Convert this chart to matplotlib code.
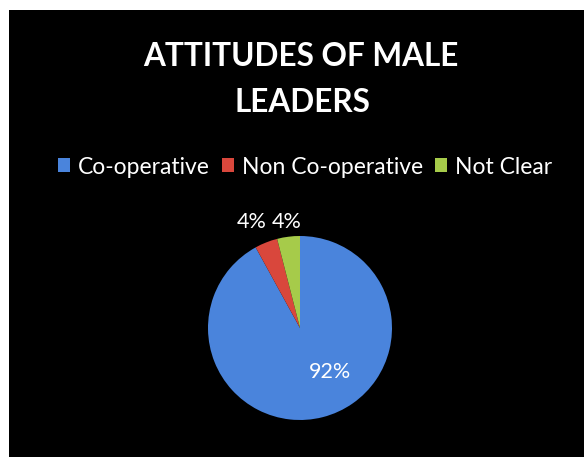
import matplotlib.pyplot as plt
from matplotlib.patches import Patch

labels = ["Co-operative", "Non Co-operative", "Not Clear"]
shares = [92, 4, 4]
colors = ["#4a84dc", "#d9473c", "#a6cb4a"]

fig = plt.figure(figsize=(5.84, 4.57), dpi=100)
fig.patch.set_facecolor("white")

# black chart area, leaving a thin white margin top and left
bg = fig.add_axes([9 / 584, 0, 1 - 9 / 584, 1 - 10 / 457])
bg.set_facecolor("black")
bg.set_xticks([])
bg.set_yticks([])
for s in bg.spines.values():
    s.set_visible(False)

fig.text(301 / 584, 1 - 56 / 457, "ATTITUDES OF MALE", color="white",
         fontsize=22.7, fontweight="bold", family="Lato", ha="center", va="center")
fig.text(302 / 584, 1 - 103 / 457, "LEADERS", color="white",
         fontsize=22.7, fontweight="bold", family="Lato", ha="center", va="center")

r = 92
cx, cy = 300, 328
ax = fig.add_axes([(cx - r) / 584, (457 - cy - r) / 457, 2 * r / 584, 2 * r / 457])
wedges, texts = ax.pie(shares, colors=colors, startangle=90, counterclock=False,
                       wedgeprops=dict(linewidth=0))
ax.set_xlim(-1, 1)
ax.set_ylim(-1, 1)
ax.set_aspect("equal")

# percentage labels placed like the spreadsheet defaults
pct_pos = [(0.33, -0.48), (-0.52, 1.15), (-0.14, 1.15)]
for v, (x, y) in zip(shares, pct_pos):
    ax.text(x, y, f"{v}%", color="white", fontsize=15.5, family="Lato",
            ha="center", va="center")

handles = [Patch(facecolor=c, edgecolor="none") for c in colors]
fig.legend(handles, labels, loc="center", bbox_to_anchor=(305 / 584, 1 - 167 / 457),
           ncol=3, frameon=False, handlelength=0.55, handleheight=0.55,
           handletextpad=0.35, columnspacing=0.5, labelcolor="white",
           prop=dict(family="Lato", size=16.5))

fig.savefig("out.png", dpi=100, facecolor=fig.get_facecolor())
